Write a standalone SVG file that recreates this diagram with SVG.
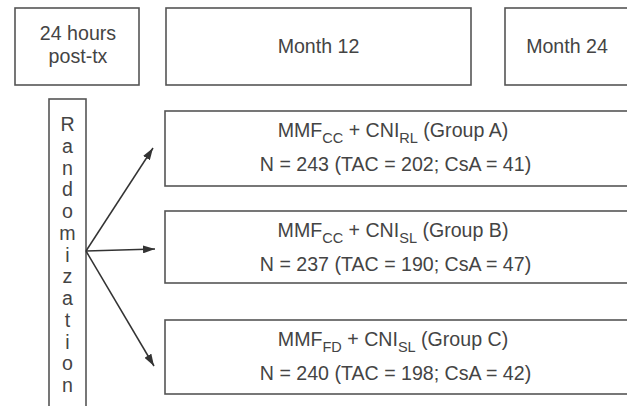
<svg xmlns="http://www.w3.org/2000/svg" width="627" height="406" viewBox="0 0 627 406">
<style>
.box{fill:#fff;stroke:#555;stroke-width:1.6}
.t{font-family:"Liberation Sans",Arial,sans-serif;font-size:19.6px;fill:#444;text-anchor:middle}
.sub{font-size:14.5px}
.c{stroke:#333;stroke-width:1.5;fill:none}
</style>
<defs>
<marker id="ah" viewBox="0 0 12 8" refX="12" refY="4" markerWidth="12" markerHeight="8" markerUnits="userSpaceOnUse" orient="auto">
<path d="M0,0 L12,4 L0,8 Z" fill="#333"/>
</marker>
</defs>
<rect width="627" height="406" fill="#fff"/>
<g id="h24">
<rect class="box" x="15" y="8" width="124" height="77"/>
<text class="t" x="78" y="40">24 hours</text>
<text class="t" x="78" y="63">post-tx</text>
</g>
<g id="m12">
<rect class="box" x="166" y="8" width="305" height="77"/>
<text class="t" x="318.5" y="53">Month 12</text>
</g>
<g id="m24">
<rect class="box" x="505" y="8" width="130" height="77"/>
<text class="t" x="567" y="53">Month 24</text>
</g>
<g id="rand">
<rect class="box" x="49" y="99" width="37" height="320"/>
<g class="t">
<text x="67.5" y="131">R</text>
<text x="67.5" y="152.75">a</text>
<text x="67.5" y="174.5">n</text>
<text x="67.5" y="196.25">d</text>
<text x="67.5" y="218">o</text>
<text x="67.5" y="239.75">m</text>
<text x="67.5" y="261.5">i</text>
<text x="67.5" y="283.25">z</text>
<text x="67.5" y="305">a</text>
<text x="67.5" y="326.75">t</text>
<text x="67.5" y="348.5">i</text>
<text x="67.5" y="370.25">o</text>
<text x="67.5" y="392">n</text>
</g>
</g>
<g id="groupA">
<rect class="box" x="165" y="111" width="470" height="75"/>
<text class="t" x="393" y="137">MMF<tspan class="sub" dy="6">CC</tspan><tspan dy="-6"> + CNI</tspan><tspan class="sub" dy="6">RL</tspan><tspan dy="-6"> (Group A)</tspan></text>
<text class="t" x="395.5" y="171">N = 243 (TAC = 202; CsA = 41)</text>
</g>
<g id="groupB">
<rect class="box" x="165" y="211" width="470" height="72"/>
<text class="t" x="393" y="237">MMF<tspan class="sub" dy="6">CC</tspan><tspan dy="-6"> + CNI</tspan><tspan class="sub" dy="6">SL</tspan><tspan dy="-6"> (Group B)</tspan></text>
<text class="t" x="395.5" y="271">N = 237 (TAC = 190; CsA = 47)</text>
</g>
<g id="groupC">
<rect class="box" x="165" y="320" width="470" height="74"/>
<text class="t" x="393" y="346">MMF<tspan class="sub" dy="6">FD</tspan><tspan dy="-6"> + CNI</tspan><tspan class="sub" dy="6">SL</tspan><tspan dy="-6"> (Group C)</tspan></text>
<text class="t" x="395.5" y="380">N = 240 (TAC = 198; CsA = 42)</text>
</g>
<g id="connectors">
<line class="c" x1="86" y1="251" x2="153" y2="148" marker-end="url(#ah)"/>
<line class="c" x1="86" y1="251" x2="155" y2="249" marker-end="url(#ah)"/>
<line class="c" x1="86" y1="251" x2="154" y2="366" marker-end="url(#ah)"/>
</g>
</svg>
